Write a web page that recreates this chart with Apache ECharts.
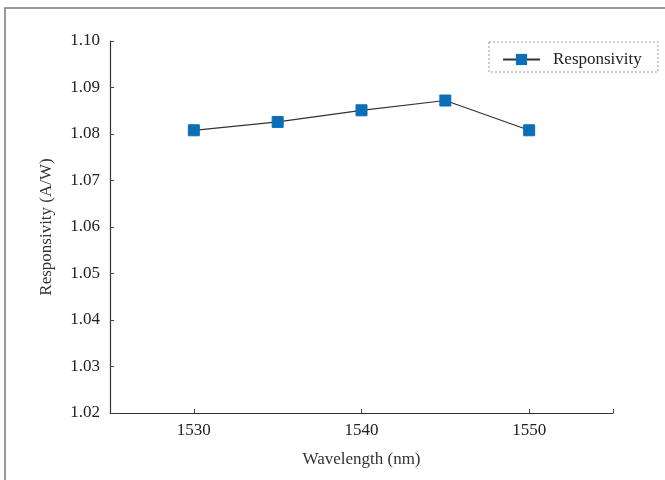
<!DOCTYPE html>
<html>
<head>
<meta charset="utf-8">
<script src="https://cdn.jsdelivr.net/npm/echarts@6/dist/echarts.min.js"></script>
<style>
  html, body { margin: 0; padding: 0; background: #fff; }
  #chart { width: 665px; height: 480px; }
</style>
</head>
<body>
<div id="chart"></div>
<script>
// data
const wavelengths = [1530, 1535, 1540, 1545, 1550];
const responsivity = [1.0808, 1.0826, 1.0851, 1.0872, 1.0808];
const xTicks = [1530, 1540, 1550];
const seriesName = 'Responsivity';

const font = 'Liberation Serif';
const myChart = echarts.init(document.getElementById('chart'));

const option = {
  animation: false,
  textStyle: { fontFamily: font },
  grid: { left: 110, right: 52, top: 41, bottom: 67, containLabel: false },
  // outer frame + legend box (dotted)
  graphic: [
    {
      type: 'rect',
      shape: { x: 5, y: 8, width: 680, height: 500 },
      style: { fill: 'none', stroke: '#777', lineWidth: 1.5 },
      silent: true
    },
    {
      type: 'rect',
      shape: { x: 489, y: 42, width: 169, height: 30 },
      style: { fill: 'none', stroke: '#999', lineWidth: 1, lineDash: [2, 2] },
      silent: true
    }
  ],
  legend: {
    data: [seriesName],
    left: 497,
    top: 46,
    itemWidth: 37,
    itemHeight: 14,
    itemGap: 0,
    textStyle: { fontFamily: font, fontSize: 17, color: '#222', padding: [0, 0, 0, 8] }
  },
  xAxis: {
    type: 'value',
    min: 1525,
    max: 1555,
    name: 'Wavelength (nm)',
    nameLocation: 'middle',
    nameGap: 38,
    nameTextStyle: { fontFamily: font, fontSize: 17, color: '#333' },
    axisLine: { show: true, lineStyle: { color: '#333', width: 1.2 } },
    axisTick: { show: true, inside: true, length: 4, customValues: [1530, 1540, 1550, 1555], lineStyle: { color: '#444' } },
    axisLabel: { customValues: xTicks, fontFamily: font, fontSize: 17, color: '#222', margin: 9, formatter: v => String(v) },
    splitLine: { show: false }
  },
  yAxis: {
    type: 'value',
    min: 1.02,
    max: 1.10,
    interval: 0.01,
    name: 'Responsivity (A/W)',
    nameLocation: 'middle',
    nameGap: 55,
    nameTextStyle: { fontFamily: font, fontSize: 17, color: '#333' },
    axisLine: { show: true, lineStyle: { color: '#333', width: 1.2 } },
    axisTick: { show: true, inside: true, length: 4, lineStyle: { color: '#444' } },
    axisLabel: {
      fontFamily: font, fontSize: 17, color: '#222', margin: 10,
      formatter: v => v.toFixed(2)
    },
    splitLine: { show: false }
  },
  series: [
    {
      name: seriesName,
      type: 'line',
      data: wavelengths.map((w, i) => [w, responsivity[i]]),
      symbol: 'rect',
      symbolSize: 11,
      itemStyle: { color: '#0b6fb8', borderColor: '#0b6fb8' },
      lineStyle: { color: '#333', width: 1.2 }
    }
  ]
};

myChart.setOption(option);
</script>
</body>
</html>
